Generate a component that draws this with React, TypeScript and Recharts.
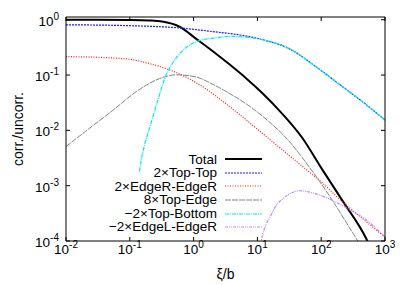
import React from "react";
import { LineChart, Line, XAxis, YAxis, Legend } from "recharts";

// values (log-log)
const totalX = [0.01, 0.03, 0.1, 0.2, 0.32, 0.6, 1.1, 2.0, 3.6, 6.7, 12, 25, 51, 100, 219, 507, 650];
const totalY = [1.0, 1.0, 0.99, 0.97, 0.93, 0.75, 0.45, 0.27, 0.158, 0.087, 0.047, 0.0195, 0.0072, 0.0021, 0.00052, 0.000111, 0.00006];

const topTopX = [0.01, 0.1, 0.6, 2, 5.3, 13.7, 32, 83, 194, 500, 1000];
const topTopY = [0.81, 0.78, 0.71, 0.61, 0.53, 0.42, 0.297, 0.141, 0.0676, 0.0295, 0.0153];

const edgeREdgeRX = [0.01, 0.087, 0.2, 0.42, 0.77, 1.57, 3.24, 5.9, 10, 15.5, 32, 66, 100, 219, 400, 1000];
const edgeREdgeRY = [0.216, 0.196, 0.162, 0.124, 0.091, 0.056, 0.03, 0.0174, 0.0105, 0.0069, 0.00347, 0.00174, 0.00117, 0.0005, 0.00028, 0.000118];

const topEdgeX = [0.01, 0.026, 0.054, 0.126, 0.29, 0.54, 1.1, 2.0, 3.6, 6.7, 12.2, 32, 58, 94, 150, 278, 400];
const topEdgeY = [0.0051, 0.012, 0.0229, 0.05, 0.086, 0.101, 0.092, 0.068, 0.047, 0.03, 0.0178, 0.0062, 0.0026, 0.0012, 0.00054, 0.000174, 0.000089];

const topBottomX = [0.142, 0.151, 0.17, 0.204, 0.29, 0.363, 0.435, 0.676, 1.23, 2.26, 3.6, 6.7, 13.7, 32, 83, 194, 500, 1000];
const topBottomY = [0.0018, 0.0029, 0.0054, 0.011, 0.043, 0.094, 0.143, 0.277, 0.42, 0.47, 0.5, 0.485, 0.42, 0.297, 0.141, 0.0676, 0.0295, 0.0153];

const edgeLEdgeRX = [10, 11.5, 13.7, 15.5, 19.7, 25, 32, 45.6, 83, 172, 278, 507, 1000];
const edgeLEdgeRY = [0.00003, 0.0001, 0.0002, 0.00026, 0.00044, 0.00058, 0.00071, 0.00081, 0.00071, 0.0005, 0.00037, 0.00024, 0.000118];

const decadesX = [0.01, 0.1, 1, 10, 100, 1000];
const decadesY = [0.0001, 0.001, 0.01, 0.1, 1];

const zip = (xs: number[], ys: number[]) => xs.map((x, i) => ({ x, y: ys[i] }));

const SERIES = [
  { name: "Total", data: zip(totalX, totalY), color: "#000000", width: 2, dash: undefined },
  { name: "2×Top-Top", data: zip(topTopX, topTopY), color: "#1a1aff", width: 1.2, dash: "2 1" },
  { name: "2×EdgeR-EdgeR", data: zip(edgeREdgeRX, edgeREdgeRY), color: "#ff1a1a", width: 1.2, dash: "1 1.5" },
  { name: "8×Top-Edge", data: zip(topEdgeX, topEdgeY), color: "#858585", width: 1, dash: "6 1" },
  { name: "−2×Top-Bottom", data: zip(topBottomX, topBottomY), color: "#00e8f0", width: 1.2, dash: "4 1 1 1" },
  { name: "−2×EdgeL-EdgeR", data: zip(edgeLEdgeRX, edgeLEdgeRY), color: "#b88cff", width: 1.2, dash: "3 1 1 1 1 1" },
];

const FONT = "'Liberation Sans', Arial, sans-serif";
const TICK = 4;

const exp10 = (v: number) => Math.round(Math.log10(v));

function BottomTick({ x, y, payload }: any) {
  return (
    <g>
      <line x1={x} x2={x} y1={y} y2={y - TICK} stroke="#000" />
      <text x={x} y={y + 13} textAnchor="middle" fontSize={13.5} fontFamily={FONT} fill="#000">
        10<tspan dy={-6} fontSize={10}>{exp10(payload.value)}</tspan>
      </text>
    </g>
  );
}

function LeftTick({ x, y, payload }: any) {
  return (
    <g>
      <line x1={x} x2={x + TICK} y1={y} y2={y} stroke="#000" />
      <text x={x - 7} y={y + 6} textAnchor="end" fontSize={13.5} fontFamily={FONT} fill="#000">
        10<tspan dy={-6} fontSize={10}>{exp10(payload.value)}</tspan>
      </text>
    </g>
  );
}

function TopTick({ x, y }: any) {
  return <line x1={x} x2={x} y1={y} y2={y + TICK} stroke="#000" />;
}

function RightTick({ x, y }: any) {
  return <line x1={x} x2={x - TICK} y1={y} y2={y} stroke="#000" />;
}

function LegendBox({ payload }: any) {
  const shown = new Set((payload || []).map((p: any) => p.value));
  return (
    <div style={{ fontFamily: FONT, fontSize: 13.5 }}>
      {SERIES.filter((s) => shown.has(s.name)).map((s) => (
        <div
          key={s.name}
          style={{ display: "flex", justifyContent: "flex-end", alignItems: "center", height: 13.6, lineHeight: "13.6px" }}
        >
          <span style={{ color: "#000", whiteSpace: "nowrap" }}>{s.name}</span>
          <svg width={37} height={6} style={{ marginLeft: 8 }}>
            <line x1={0} x2={37} y1={3} y2={3} stroke={s.color} strokeWidth={s.width} strokeDasharray={s.dash} />
          </svg>
        </div>
      ))}
    </div>
  );
}

export default function App() {
  return (
    <div style={{ position: "absolute", left: 0, top: 0, width: 407, height: 285, background: "#fff" }}>
      <LineChart width={407} height={285} margin={{ top: 16, right: 21, bottom: 0, left: 0 }}>
        <XAxis
          xAxisId="b"
          type="number"
          dataKey="x"
          scale="log"
          domain={[0.01, 1000]}
          allowDataOverflow
          ticks={decadesX}
          height={44}
          tickSize={0}
          tickMargin={0}
          tickLine={false}
          axisLine={{ stroke: "#000" }}
          tick={<BottomTick />}
          label={{
            content: ({ viewBox }: any) => (
              <text x={viewBox.x + viewBox.width / 2} y={viewBox.y + 38} textAnchor="middle" fontSize={14} fontFamily={FONT}>
                ξ/b
              </text>
            ),
          }}
        />
        <XAxis
          xAxisId="t"
          orientation="top"
          type="number"
          dataKey="x"
          scale="log"
          domain={[0.01, 1000]}
          allowDataOverflow
          ticks={decadesX}
          height={1}
          tickSize={0}
          tickMargin={0}
          tickLine={false}
          axisLine={{ stroke: "#000" }}
          tick={<TopTick />}
        />
        <YAxis
          yAxisId="l"
          type="number"
          dataKey="y"
          scale="log"
          domain={[0.0001, 1.12]}
          allowDataOverflow
          ticks={decadesY}
          width={66}
          tickSize={0}
          tickMargin={0}
          tickLine={false}
          axisLine={{ stroke: "#000" }}
          tick={<LeftTick />}
          label={{
            content: ({ viewBox }: any) => {
              const cx = 23;
              const cy = viewBox.y + viewBox.height / 2;
              return (
                <text x={cx} y={cy} transform={`rotate(-90 ${cx} ${cy})`} textAnchor="middle" fontSize={14} fontFamily={FONT}>
                  corr./uncorr.
                </text>
              );
            },
          }}
        />
        <YAxis
          yAxisId="r"
          orientation="right"
          type="number"
          dataKey="y"
          scale="log"
          domain={[0.0001, 1.12]}
          allowDataOverflow
          ticks={decadesY}
          width={1}
          tickSize={0}
          tickMargin={0}
          tickLine={false}
          axisLine={{ stroke: "#000" }}
          tick={<RightTick />}
        />
        <Legend
          layout="vertical"
          verticalAlign="middle"
          align="center"
          wrapperStyle={{ position: "absolute", left: 60, top: 152.5, width: 202 }}
          content={<LegendBox />}
        />
        {SERIES.map((s) => (
          <Line
            key={s.name}
            xAxisId="b"
            yAxisId="l"
            data={s.data}
            dataKey="y"
            name={s.name}
            type="monotone"
            stroke={s.color}
            strokeWidth={s.width}
            strokeDasharray={s.dash}
            dot={false}
            activeDot={false}
            isAnimationActive={false}
          />
        ))}
      </LineChart>
    </div>
  );
}
